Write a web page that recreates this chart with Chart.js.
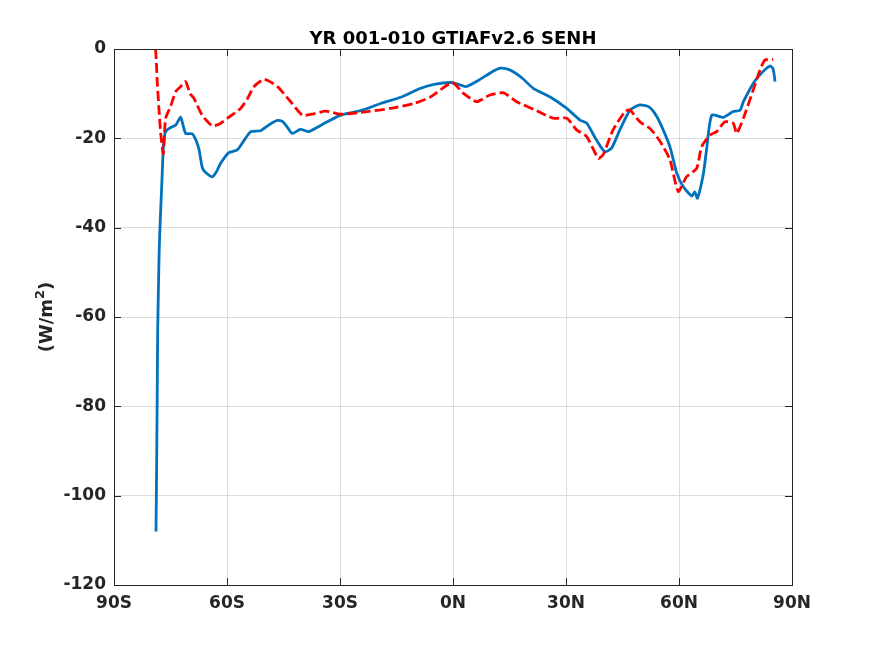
<!DOCTYPE html>
<html>
<head>
<meta charset="utf-8">
<script src="https://cdn.jsdelivr.net/npm/chart.js@4/dist/chart.umd.min.js"></script>
<style>
  html, body { margin: 0; padding: 0; background: #fff; }
  #wrap { width: 875px; height: 656px; }
</style>
</head>
<body>
<div id="wrap"><canvas id="chart" width="875" height="656"></canvas></div>
<script>
// axis ticks
const latTicks = [-90, -60, -30, 0, 30, 60, 90];
const latLabels = ['90S', '60S', '30S', '0N', '30N', '60N', '90N'];
const fluxTicks = [0, -20, -40, -60, -80, -100, -120];

// blue solid series
const blueLat = [-78.85, -78.7, -78.55, -78.4, -78.0, -77.7, -77.3, -76.9, -76.5, -75.9, -74.8, -73.6, -72.3, -71.0, -69.2, -68.2, -67.4, -66.5, -65.2, -63.9, -62.8, -61.7, -59.5, -57.3, -55.5, -53.7, -51.1, -48.5, -46.6, -45.3, -44.0, -42.7, -40.5, -38.3, -36.0, -33.4, -29.8, -24.5, -19.2, -13.9, -8.6, -5.0, -0.6, 1.8, 3.6, 7.2, 10.0, 12.5, 14.5, 16.0, 18.5, 21.3, 25.7, 30.2, 33.7, 35.5, 38.1, 40.3, 42.1, 44.3, 47.0, 49.6, 51.9, 53.5, 55.0, 57.6, 59.4, 61.1, 63.4, 64.2, 64.9, 66.5, 67.3, 68.7, 71.8, 74.4, 76.2, 77.1, 79.7, 81.9, 84.2, 85.0, 85.5];
const blueFlux = [-108, -95, -80, -63, -45, -38, -30, -22, -19, -18.1, -17.5, -17.0, -15.3, -18.9, -19.0, -20.5, -22.6, -26.7, -28.0, -28.6, -27.5, -25.6, -23.2, -22.6, -20.5, -18.5, -18.3, -16.8, -16.0, -16.2, -17.5, -18.9, -18.0, -18.5, -17.5, -16.3, -14.8, -13.8, -12.2, -10.8, -8.8, -7.9, -7.5, -8.0, -8.4, -6.8, -5.3, -4.3, -4.5, -5.1, -6.6, -8.8, -10.7, -13.3, -15.9, -16.6, -20.4, -23.0, -22.2, -18.1, -13.7, -12.5, -12.9, -14.3, -16.6, -21.9, -27.8, -30.8, -32.9, -32.0, -33.4, -27.8, -22.6, -14.8, -15.3, -14.0, -13.7, -11.8, -7.7, -5.4, -3.8, -4.5, -7.3];

// red dashed series
const redLat = [-78.96, -78.7, -78.5, -78.1, -77.6, -76.9, -76.3, -75.0, -73.6, -72.3, -71.0, -69.8, -68.8, -66.6, -63.9, -62.0, -59.9, -56.4, -54.5, -52.8, -50.2, -48.4, -46.6, -43.1, -40.0, -37.0, -33.8, -29.8, -22.7, -16.6, -10.4, -5.9, -0.2, 2.7, 6.3, 9.8, 13.4, 16.9, 22.2, 26.6, 30.2, 32.8, 35.5, 38.6, 39.9, 42.5, 45.7, 47.0, 49.6, 52.3, 55.0, 57.6, 59.8, 62.0, 64.7, 66.0, 68.2, 70.0, 72.2, 74.4, 75.3, 77.1, 79.7, 81.5, 82.8, 85.0];
const redFlux = [0, -4, -7.7, -13, -18.9, -23.4, -15.5, -12.9, -9.5, -8.4, -7.3, -10.0, -11.0, -14.8, -17.2, -16.8, -15.5, -13.3, -11.0, -8.4, -6.8, -7.4, -8.4, -11.8, -14.8, -14.5, -13.9, -14.6, -14.0, -13.3, -12.2, -10.7, -7.5, -9.9, -11.8, -10.3, -9.8, -11.8, -13.8, -15.5, -15.5, -18.1, -19.6, -24.5, -23.6, -18.1, -14.0, -13.7, -16.3, -17.8, -20.7, -24.8, -31.9, -28.6, -26.7, -21.9, -19.3, -18.5, -16.3, -16.6, -18.9, -15.5, -9.2, -4.7, -2.5, -2.3];

const titleText = 'YR 001-010 GTIAFv2.6 SENH';

function toPoints(xs, ys) {
    return xs.map((x, i) => ({ x: x, y: ys[i] }));
}

const FONT = 'DejaVu Sans';
const LEFT = 114, RIGHT = 792, TOP = 49, BOTTOM = 585;

// box with inward ticks, title and y label (with superscript) drawn by hand
const boxPlugin = {
    id: 'box',
    afterDatasetsDraw(chart) {
        const ctx = chart.ctx;
        const a = chart.chartArea;
        const xs = chart.scales.x, ys = chart.scales.y;
        ctx.save();
        ctx.strokeStyle = '#262626';
        ctx.lineWidth = 1;
        ctx.strokeRect(a.left + 0.5, a.top + 0.5, a.right - a.left, a.bottom - a.top);
        ctx.beginPath();
        latTicks.forEach(v => {
            const px = Math.round(xs.getPixelForValue(v)) + 0.5;
            ctx.moveTo(px, a.bottom); ctx.lineTo(px, a.bottom - 7);
            ctx.moveTo(px, a.top); ctx.lineTo(px, a.top + 7);
        });
        fluxTicks.forEach(v => {
            const py = Math.round(ys.getPixelForValue(v)) + 0.5;
            ctx.moveTo(a.left, py); ctx.lineTo(a.left + 7, py);
            ctx.moveTo(a.right, py); ctx.lineTo(a.right - 7, py);
        });
        ctx.stroke();

        // title centred over the axes
        ctx.fillStyle = '#000';
        ctx.font = 'bold 18px "' + FONT + '"';
        ctx.textAlign = 'center';
        ctx.textBaseline = 'alphabetic';
        ctx.fillText(titleText, (a.left + a.right) / 2, 44);

        // y label, rotated
        const base = '(W/m', sup = '2', tail = ')';
        ctx.translate(52, (a.top + a.bottom) / 2);
        ctx.rotate(-Math.PI / 2);
        ctx.fillStyle = '#262626';
        ctx.textAlign = 'left';
        ctx.font = 'bold 18px "' + FONT + '"';
        const wb = ctx.measureText(base).width, wt = ctx.measureText(tail).width;
        ctx.font = 'bold 13px "' + FONT + '"';
        const ws = ctx.measureText(sup).width;
        let x0 = -(wb + ws + wt) / 2;
        ctx.font = 'bold 18px "' + FONT + '"';
        ctx.fillText(base, x0, 0);
        ctx.font = 'bold 13px "' + FONT + '"';
        ctx.fillText(sup, x0 + wb, -8);
        ctx.font = 'bold 18px "' + FONT + '"';
        ctx.fillText(tail, x0 + wb + ws, 0);
        ctx.restore();
    }
};

new Chart(document.getElementById('chart'), {
    type: 'line',
    data: {
        datasets: [
            {
                label: 'blue',
                data: toPoints(blueLat, blueFlux),
                borderColor: '#0072BD',
                borderWidth: 2.8,
                pointRadius: 0,
                tension: 0.2,
                order: 2
            },
            {
                label: 'red',
                data: toPoints(redLat, redFlux),
                borderColor: '#FF0000',
                borderWidth: 2.8,
                borderDash: [10, 4],
                pointRadius: 0,
                tension: 0.2,
                order: 1
            }
        ]
    },
    options: {
        responsive: false,
        animation: false,
        layout: { padding: { left: 0, right: 875 - RIGHT, top: TOP, bottom: 0 } },
        plugins: {
            legend: { display: false },
            tooltip: { enabled: false },
            title: { display: false }
        },
        scales: {
            x: {
                type: 'linear',
                min: -90,
                max: 90,
                afterBuildTicks: scale => { scale.ticks = latTicks.map(v => ({ value: v })); },
                afterFit: scale => { scale.height = 656 - BOTTOM; },
                ticks: {
                    color: '#262626',
                    font: { family: FONT, size: 17, weight: 'bold' },
                    padding: 8,
                    maxRotation: 0,
                    callback: v => latLabels[latTicks.indexOf(v)]
                },
                grid: { color: '#dcdcdc', drawTicks: false },
                border: { display: false }
            },
            y: {
                type: 'linear',
                min: -120,
                max: 0,
                afterBuildTicks: scale => { scale.ticks = fluxTicks.map(v => ({ value: v })); },
                afterFit: scale => { scale.width = LEFT; },
                ticks: {
                    color: '#262626',
                    font: { family: FONT, size: 17, weight: 'bold' },
                    padding: 8
                },
                grid: { color: '#dcdcdc', drawTicks: false },
                border: { display: false }
            }
        }
    },
    plugins: [boxPlugin]
});
</script>
</body>
</html>
